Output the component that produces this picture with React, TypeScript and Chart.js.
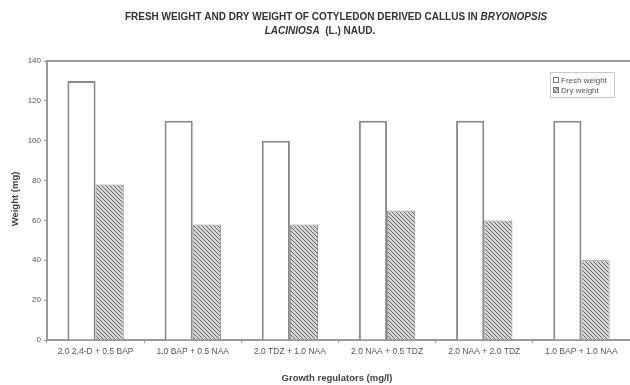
import React, { useEffect, useRef } from "react";
import { Chart, registerables } from "chart.js";

Chart.register(...registerables);

const categories = [
  "2.0 2,4-D + 0.5 BAP",
  "1.0 BAP + 0.5 NAA",
  "2.0 TDZ + 1.0 NAA",
  "2.0 NAA + 0.5 TDZ",
  "2.0 NAA + 2.0 TDZ",
  "1.0 BAP + 1.0 NAA",
];
const freshWeight = [130, 110, 100, 110, 110, 110];
const dryWeight = [78, 58, 58, 65, 60, 40];
const seriesLabels = ["Fresh weight", "Dry weight"];
const titleLine1 = [
  { t: "FRESH WEIGHT AND DRY WEIGHT OF COTYLEDON DERIVED CALLUS IN ", i: false },
  { t: "BRYONOPSIS", i: true },
];
const titleLine2 = [
  { t: "LACINIOSA", i: true },
  { t: "  (L.) NAUD.", i: false },
];
const yTitle = "Weight (mg)";
const xTitle = "Growth regulators (mg/l)";
const yMax = 140;
const yStep = 20;

const FONT = "'Liberation Sans', Arial, sans-serif";

function makeHatch(): CanvasPattern | string {
  const c = document.createElement("canvas");
  c.width = 4;
  c.height = 4;
  const g = c.getContext("2d");
  if (!g) return "#aaa";
  g.fillStyle = "#d4d4d4";
  g.fillRect(0, 0, 4, 4);
  g.strokeStyle = "#6a6a6a";
  g.lineWidth = 1;
  g.beginPath();
  g.moveTo(-1, -1);
  g.lineTo(5, 5);
  g.moveTo(-1, 3);
  g.lineTo(1, 5);
  g.moveTo(3, -1);
  g.lineTo(5, 1);
  g.stroke();
  const p = g.createPattern(c, "repeat");
  return p || "#aaa";
}

function drawSegments(ctx: CanvasRenderingContext2D, segs: { t: string; i: boolean }[], cx: number, y: number, size: number) {
  const fonts = segs.map((s) => `${s.i ? "italic " : ""}bold ${size}px ${FONT}`);
  let total = 0;
  const widths = segs.map((s, k) => {
    ctx.font = fonts[k];
    const w = ctx.measureText(s.t).width;
    total += w;
    return w;
  });
  let x = cx - total / 2;
  segs.forEach((s, k) => {
    ctx.font = fonts[k];
    ctx.fillText(s.t, x, y);
    x += widths[k];
  });
}

export default function App() {
  const ref = useRef<HTMLCanvasElement | null>(null);
  useEffect(() => {
    document.body.style.margin = "0";
    const canvas = ref.current;
    if (!canvas) return;
    const hatch = makeHatch();

    const decor = {
      id: "decor",
      afterDraw(chart: any) {
        const ctx = chart.ctx as CanvasRenderingContext2D;
        const area = chart.chartArea;
        ctx.save();
        ctx.fillStyle = "#333";
        ctx.textBaseline = "middle";
        ctx.textAlign = "left";
        drawSegments(ctx, titleLine1, 336, 17, 10);
        drawSegments(ctx, titleLine2, 320, 31, 10);

        // axis titles
        ctx.fillStyle = "#444";
        ctx.font = `bold 9.5px ${FONT}`;
        ctx.textAlign = "center";
        ctx.fillText(xTitle, 337, 378);
        ctx.save();
        ctx.translate(15, 199);
        ctx.rotate(-Math.PI / 2);
        ctx.fillText(yTitle, 0, 0);
        ctx.restore();

        // top border
        ctx.strokeStyle = "#999";
        ctx.lineWidth = 2;
        ctx.beginPath();
        ctx.moveTo(area.left, area.top);
        ctx.lineTo(area.right, area.top);
        ctx.stroke();

        // legend
        const lx = 550, ly = 72, lw = 64, lh = 25;
        ctx.fillStyle = "#fff";
        ctx.fillRect(lx, ly, lw, lh);
        ctx.strokeStyle = "#c8c8c8";
        ctx.lineWidth = 1;
        ctx.strokeRect(lx + 0.5, ly + 0.5, lw, lh);
        ctx.font = `8px ${FONT}`;
        ctx.textAlign = "left";
        chart.data.datasets.forEach((ds: any, k: number) => {
          const yy = ly + 8 + k * 10;
          ctx.fillStyle = k === 0 ? "#fff" : (hatch as any);
          ctx.fillRect(lx + 3, yy - 3, 6, 6);
          ctx.strokeStyle = "#777";
          ctx.strokeRect(lx + 3.5, yy - 2.5, 5, 5);
          ctx.fillStyle = "#555";
          ctx.fillText(ds.label, lx + 11, yy + 0.5);
        });
        ctx.restore();
      },
    };

    const chart = new Chart(canvas, {
      type: "bar",
      data: {
        labels: categories,
        datasets: [
          {
            label: seriesLabels[0],
            data: freshWeight,
            backgroundColor: "#ffffff",
            borderColor: "#8a8a8a",
            borderWidth: 2,
            barPercentage: 1,
            categoryPercentage: 0.58,
          },
          {
            label: seriesLabels[1],
            data: dryWeight,
            backgroundColor: hatch as any,
            borderColor: "#8a8a8a",
            borderWidth: 1,
            barPercentage: 1,
            categoryPercentage: 0.58,
          },
        ],
      },
      options: {
        responsive: false,
        animation: false,
        layout: { padding: { top: 61, right: 0, left: 0, bottom: 0 } },
        plugins: {
          legend: { display: false },
          title: { display: false },
          tooltip: { enabled: false },
        },
        scales: {
          x: {
            afterFit: (s: any) => {
              s.height = 45;
            },
            grid: {
              display: true,
              offset: true,
              drawOnChartArea: false,
              drawTicks: true,
              tickLength: 3,
              color: "#999",
            },
            border: { display: true, color: "#999", width: 2 },
            ticks: {
              color: "#555",
              font: { size: 8.5, family: FONT },
              padding: 4,
              maxRotation: 0,
              autoSkip: false,
            },
          },
          y: {
            min: 0,
            max: yMax,
            afterFit: (s: any) => {
              s.width = 47;
            },
            grid: {
              display: true,
              drawOnChartArea: false,
              drawTicks: true,
              tickLength: 3,
              color: "#999",
            },
            border: { display: true, color: "#999", width: 2 },
            ticks: {
              stepSize: yStep,
              color: "#555",
              font: { size: 8, family: FONT },
              padding: 3,
            },
          },
        },
      },
      plugins: [decor],
    });
    return () => chart.destroy();
  }, []);

  return (
    <div style={{ width: 630, height: 385 }}>
      <canvas ref={ref} width={630} height={385} style={{ display: "block" }} />
    </div>
  );
}
